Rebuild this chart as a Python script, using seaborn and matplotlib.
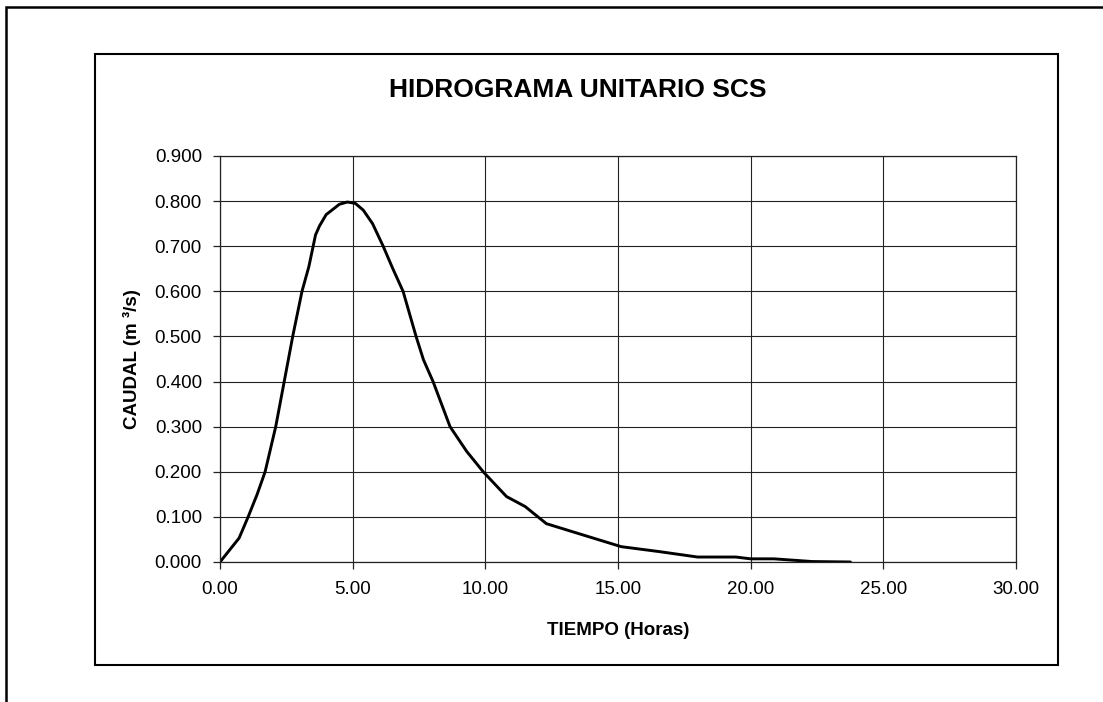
import matplotlib
matplotlib.use("Agg")
import matplotlib.pyplot as plt
import seaborn as sns
import pandas as pd
from matplotlib.patches import Rectangle

# Data
tiempo = [0.00, 0.72, 1.06, 1.40, 1.70, 2.10, 2.42, 2.74, 3.09, 3.35, 3.60, 3.75, 4.00,
          4.50, 4.80, 5.10, 5.40, 5.75, 6.15, 6.50, 6.90, 7.39, 7.67, 8.03, 8.67, 9.30, 9.92,
          10.80, 11.50, 12.30, 13.68, 15.12, 16.56, 18.00, 19.44, 20.00, 20.88,
          22.32, 23.76]
caudal = [0.000, 0.053, 0.100, 0.150, 0.200, 0.300, 0.400, 0.500, 0.600, 0.655, 0.725, 0.745, 0.770,
          0.793, 0.798, 0.795, 0.780, 0.750, 0.700, 0.652, 0.600, 0.500, 0.448, 0.400, 0.300, 0.245, 0.200,
          0.145, 0.123, 0.085, 0.060, 0.034, 0.023, 0.011, 0.011, 0.007, 0.007,
          0.001, 0.000]
x_ticks = [0, 5, 10, 15, 20, 25, 30]
y_ticks = [0.0, 0.1, 0.2, 0.3, 0.4, 0.5, 0.6, 0.7, 0.8, 0.9]

titulo = "HIDROGRAMA UNITARIO SCS"
x_label = "TIEMPO (Horas)"
y_label = "CAUDAL (m \u00b3/s)"

sns.set_theme(style="white")
plt.rcParams['font.family'] = ['Liberation Sans', 'DejaVu Sans']
plt.rcParams['text.color'] = 'black'
plt.rcParams['axes.labelcolor'] = 'black'

df = pd.DataFrame({"t": tiempo, "q": caudal})

fig = plt.figure(figsize=(11.03, 7.02), dpi=100)
fig.patch.set_facecolor("white")
W, H = 1103, 702
ax = fig.add_axes([220 / W, 1 - 562 / H, (1016 - 220) / W, (562 - 156) / H])

sns.lineplot(data=df, x="t", y="q", ax=ax, color="black", linewidth=2.1,
             sort=False, estimator=None)

ax.set_xlim(0, 30)
ax.set_ylim(0, 0.9)
ax.set_xticks(x_ticks)
ax.set_yticks(y_ticks)
ax.set_xticklabels([f"{v:.2f}" for v in x_ticks])
ax.set_yticklabels([f"{v:.3f}" for v in y_ticks])
ax.grid(True, color="#222222", linewidth=0.8)
ax.set_axisbelow(True)
for s in ax.spines.values():
    s.set_color("#222222")
    s.set_linewidth(0.9)
ax.tick_params(axis="both", which="major", direction="out", length=5, width=0.9,
               color="#222222", labelsize=13.5, labelcolor="black",
               bottom=True, left=True)
ax.tick_params(axis="x", pad=9)
ax.tick_params(axis="y", pad=8)

ax.set_xlabel(x_label, fontsize=13.5, fontweight="bold", labelpad=17, color="black")
ax.set_ylabel(y_label, fontsize=13.5, fontweight="bold", labelpad=10, color="black")

fig.text(578 / W, 1 - 90 / H, titulo, ha="center", va="center",
         fontsize=19, fontweight="bold", color="black")

# inner chart-area border
fig.patches.append(Rectangle((95 / W, 1 - 665 / H), (1058 - 95) / W, (665 - 54) / H,
                             transform=fig.transFigure, fill=False,
                             edgecolor="black", linewidth=1.5))
# outer border (runs off right and bottom)
fig.patches.append(Rectangle((6 / W, -0.1), 1.2, 1 - 7 / H + 0.1,
                             transform=fig.transFigure, fill=False,
                             edgecolor="black", linewidth=1.8, clip_on=False))

fig.savefig("out.png", dpi=100, facecolor="white")
